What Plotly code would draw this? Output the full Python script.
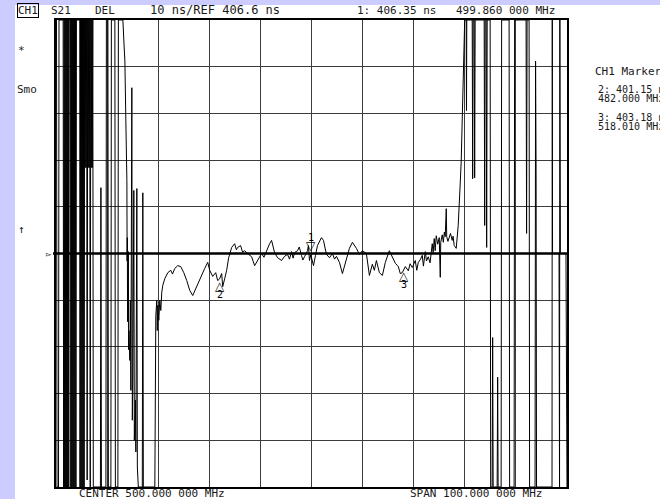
import numpy as np
import plotly.graph_objects as go

center_mhz = 500.0
span_mhz = 100.0
ref_value_ns = 406.6
scale_ns_per_div = 10.0
n_div = 10

# left out-of-band region (wrapping / clipped group delay)
left_freq = [450.10, 450.20, 450.49, 450.59, 451.40,
             451.5, 451.6, 451.7, 451.8, 451.9, 452.0, 452.1, 452.2, 452.3, 452.4, 452.5, 452.6,
             452.85, 452.9, 453.0, 453.1, 453.2, 453.3, 453.4, 453.5, 453.6, 453.7, 453.8, 453.9, 454.0,
             454.65, 454.7, 454.8, 454.9, 455.0, 455.1, 455.2, 455.3, 455.4, 455.5, 455.6,
             455.7, 455.8, 455.9, 456.0, 456.1, 456.2, 456.3, 456.4, 456.5, 456.6, 456.7, 456.8,
             456.9, 457.0, 457.1, 457.2, 457.3,
             458.69, 458.79, 458.89, 459.77, 459.86, 460.16, 460.25, 460.74, 460.84, 461.52,
             461.62, 462.11, 462.21, 463.09,
             463.28, 463.48, 463.67, 463.87, 463.92, 463.96, 464.01, 464.06, 464.11, 464.16,
             464.21, 464.26, 464.45, 464.50, 464.55, 464.65, 464.84, 464.94, 465.04, 465.23,
             465.33, 465.53, 465.63, 465.82, 465.92,
             466.11, 466.89, 466.99, 467.09, 469.34, 469.43, 469.53, 469.73, 469.82, 469.92,
             470.12, 470.31, 470.51, 470.70, 470.90]
left_delay = [456.6, 356.6, 356.6, 456.6, 456.6,
              356.6, 456.6, 356.6, 456.6, 356.6, 456.6, 356.6, 456.6, 356.6, 456.6, 356.6, 456.6,
              456.6, 356.6, 456.6, 356.6, 456.6, 356.6, 456.6, 356.6, 456.6, 356.6, 456.6, 356.6, 456.6,
              456.6, 356.6, 456.6, 356.6, 456.6, 356.6, 456.6, 356.6, 456.6, 356.6, 456.6,
              425.0, 456.6, 425.0, 456.6, 358.1, 456.6, 425.0, 456.6, 425.0, 456.6, 356.6, 456.6,
              425.0, 456.6, 425.0, 456.6, 356.6,
              356.6, 420.7, 356.6, 356.6, 456.6, 456.6, 356.6, 356.6, 456.6, 456.6,
              356.6, 356.6, 456.6, 456.6,
              452.1, 447.8, 435.0, 422.2, 405.0, 410.0, 392.0, 396.6, 404.0, 407.0,
              386.0, 390.1, 383.7, 392.0, 396.6, 377.3, 442.1, 370.9, 379.5, 420.1,
              366.6, 375.2, 364.1, 420.5, 360.9,
              356.6, 356.6, 419.6, 356.6, 356.6, 388.6, 393.3, 396.6, 390.1, 395.5,
              392.3, 396.6, 394.4, 398.3, 399.8]

# passband region
pass_freq = [471.29, 471.88, 472.46, 472.80, 473.24, 473.83, 474.41, 475.00, 475.59, 476.17,
             476.76, 477.34, 477.93, 478.52, 479.10, 479.69, 480.08, 480.66, 481.25, 481.64,
             482.00, 482.42, 482.62, 483.01, 483.40, 483.79, 484.38, 484.96, 485.30, 485.55,
             486.13, 486.50, 486.91, 487.50, 488.28, 488.87, 489.45, 490.23, 490.70, 491.21,
             491.80, 492.19, 492.77, 493.36, 494.14, 494.73, 495.31, 495.70, 496.09, 496.40,
             496.68, 497.27, 497.60, 498.05, 498.30, 498.63, 499.22, 499.40, 499.61, 499.86,
             500.39, 500.78, 501.17, 501.95, 502.34, 502.93, 503.52, 504.10, 504.50, 504.88,
             505.47, 506.05, 506.64, 507.42, 508.01, 508.79, 509.38, 509.96, 510.74, 511.33,
             511.91, 512.30, 512.70, 513.28, 513.87, 514.45, 515.23, 515.82, 516.41, 516.99,
             517.38, 517.77, 518.01, 518.36, 518.95, 519.30, 519.73, 520.31, 520.60, 520.90,
             521.30, 521.68, 521.90, 522.27, 522.50, 522.85, 523.20, 523.63, 523.80, 524.02,
             524.20, 524.41, 524.70, 525.00, 525.20, 525.29, 525.59, 525.80, 526.00, 526.17,
             526.37, 526.46, 526.70, 526.95, 527.20, 527.54, 527.70, 527.93, 528.32]
pass_delay = [401.2, 402.5, 403.0, 402.2, 403.4, 404.0, 403.8, 402.5, 400.8, 398.7,
              397.6, 399.1, 400.4, 401.9, 403.4, 404.7, 403.0, 401.7, 402.5, 400.8,
              401.15, 402.3, 399.5, 401.2, 403.0, 405.7, 407.9, 408.7, 407.4, 407.9,
              408.3, 406.9, 407.2, 406.6, 405.9, 404.0, 405.1, 406.6, 405.8, 407.2,
              408.7, 409.4, 406.8, 405.7, 405.1, 406.0, 406.4, 405.4, 407.0, 405.6,
              406.8, 407.2, 408.0, 406.2, 405.2, 405.9, 407.2, 408.3, 405.1, 406.35,
              404.0, 406.2, 408.3, 410.0, 409.4, 406.4, 405.7, 406.6, 405.4, 406.0,
              404.7, 402.3, 404.5, 407.7, 409.0, 407.7, 406.4, 407.2, 406.6, 401.9,
              404.3, 403.0, 405.1, 402.5, 401.9, 404.7, 407.2, 405.7, 404.5, 403.8,
              402.3, 402.5, 403.18, 403.8, 402.9, 404.4, 403.6, 405.1, 403.0, 404.7,
              405.3, 406.2, 403.9, 407.0, 405.0, 405.9, 404.6, 408.7, 406.8, 409.8,
              407.2, 410.4, 408.6, 410.0, 401.5, 409.0, 410.6, 409.0, 411.2, 410.2,
              416.2, 410.2, 409.2, 410.4, 410.9, 409.4, 410.3, 408.3, 407.7]

# right out-of-band region
right_freq = [528.71, 528.91, 529.10, 529.30, 529.49, 529.69, 529.88, 529.98,
              530.27, 530.33, 530.39, 531.45, 531.54, 531.64, 531.84, 531.93, 532.03,
              533.79, 533.89, 533.98, 534.18, 534.28, 534.38, 534.96, 535.06,
              535.35, 535.45, 535.55, 536.33, 536.43, 536.52, 537.11, 537.21,
              538.67, 538.77, 539.65, 539.75, 541.99, 542.09, 542.19, 542.58, 542.68,
              543.75, 543.85, 543.95, 544.04, 547.07, 547.12, 547.17, 548.44, 548.54,
              548.60, 548.70, 549.80, 549.90, 550.0]
right_delay = [412.6, 416.2, 421.5, 426.5, 434.0, 443.6, 452.1, 456.6,
               456.6, 437.2, 456.6, 456.6, 422.6, 456.6, 456.6, 422.8, 456.6,
               456.6, 412.6, 456.6, 456.6, 407.9, 456.6, 456.6, 356.6,
               356.6, 388.6, 356.6, 356.6, 380.1, 356.6, 356.6, 456.6,
               456.6, 356.6, 356.6, 456.6, 456.6, 410.9, 456.6, 456.6, 356.6,
               356.6, 447.8, 424.3, 356.6, 356.6, 456.6, 406.6, 406.6, 356.6,
               456.6, 406.6, 406.6, 356.6, 356.6]

marker_ids = ["1", "2", "3"]
marker_freq = [499.86, 482.0, 518.01]
marker_delay = [406.35, 401.15, 403.18]

# ---------------- figure ----------------
W, H = 660, 499
L, R, T, B = 56, 567, 20, 487

x_lo = center_mhz - span_mhz / 2
x_hi = center_mhz + span_mhz / 2
y_lo = ref_value_ns - scale_ns_per_div * n_div / 2
y_hi = ref_value_ns + scale_ns_per_div * n_div / 2

freq = left_freq + pass_freq + right_freq
delay = np.clip(np.array(left_delay + pass_delay + right_delay), y_lo, y_hi)

fig = go.Figure()
fig.add_trace(go.Scatter(x=freq, y=delay, mode="lines",
                         line=dict(color="#000000", width=1),
                         hoverinfo="skip", showlegend=False))

def px(x):
    return (x - L) / (R - L)

def py(y):
    return (B - y) / (B - T)

LAV = "#ccccff"
shapes = [
    dict(type="rect", xref="paper", yref="paper", x0=px(0), x1=px(15), y0=py(H), y1=py(0),
         fillcolor=LAV, line=dict(width=0), layer="below"),
    dict(type="rect", xref="paper", yref="paper", x0=px(0), x1=px(W), y0=py(5), y1=py(0),
         fillcolor=LAV, line=dict(width=0), layer="below"),
    dict(type="line", xref="paper", yref="y", x0=px(53), x1=1, y0=ref_value_ns, y1=ref_value_ns,
         line=dict(color="#000000", width=2.5)),
]

MONO = "DejaVu Sans Mono"
TXT = "#1a1a1a"

def label(x, y, text, size=11, **kw):
    fig.add_annotation(x=px(x), y=py(y), xref="paper", yref="paper", text=text,
                       showarrow=False, xanchor="left", yanchor="middle",
                       font=dict(family=MONO, size=size, color=TXT), **kw)

label(17, 10, "CH1", bordercolor="#000000", borderwidth=1, borderpad=0)
label(49, 10, "S21")
label(93, 10, "DEL")
label(148, 10, f"{scale_ns_per_div:g} ns/REF {ref_value_ns} ns", size=12)
label(355, 10, f"1: {marker_delay[0]:.2f} ns")
label(454, 10, "499.860 000 MHz")
label(16, 50, "*")
label(15, 89, "Smo")
label(16, 230, "↑")
label(44, 254, "▻", size=9)
label(593, 72, "CH1 Markers", size=11)
label(596, 89, f"2: {marker_delay[1]:.2f} ns", size=10)
label(596, 98, "482.000 MHz", size=10)
label(596, 117, f"3: {marker_delay[2]:.2f} ns", size=10)
label(596, 126, "518.010 MHz", size=10)
label(77, 493, f"CENTER {center_mhz:.3f} 000 MHz")
label(408, 493, f"SPAN {span_mhz:.3f} 000 MHz")

# trace markers
for i, (mid, mf, md) in enumerate(zip(marker_ids, marker_freq, marker_delay)):
    if i == 0:
        fig.add_annotation(x=mf, y=md, text="▽", showarrow=False, yanchor="bottom",
                           yshift=0, font=dict(family="DejaVu Sans", size=12, color="#000"))
        fig.add_annotation(x=mf, y=md, text=mid, showarrow=False, yanchor="bottom",
                           yshift=10, font=dict(family=MONO, size=10, color="#000"))
    else:
        fig.add_annotation(x=mf, y=md, text="△", showarrow=False, yanchor="top",
                           yshift=2, font=dict(family="DejaVu Sans", size=12, color="#000"))
        fig.add_annotation(x=mf, y=md, text=mid, showarrow=False, yanchor="top",
                           yshift=-8, font=dict(family=MONO, size=10, color="#000"))

axis_common = dict(showgrid=True, gridcolor="#3c3c3c", gridwidth=1, showticklabels=False,
                   ticks="", zeroline=False, showline=True, mirror=True,
                   linecolor="#000000", linewidth=1.5, fixedrange=True)

fig.update_layout(
    width=W, height=H,
    margin=dict(l=L, r=W - R, t=T, b=H - B, pad=0),
    paper_bgcolor="#ffffff", plot_bgcolor="#ffffff",
    template="none",
    showlegend=False,
    shapes=shapes,
    xaxis=dict(range=[x_lo, x_hi], tick0=x_lo, dtick=span_mhz / n_div, **axis_common),
    yaxis=dict(range=[y_lo, y_hi], tick0=y_lo, dtick=scale_ns_per_div, **axis_common),
)

fig.write_html("out.html", config={"displayModeBar": False},
               post_script="document.body.style.margin='0px';document.body.style.overflow='hidden';")
